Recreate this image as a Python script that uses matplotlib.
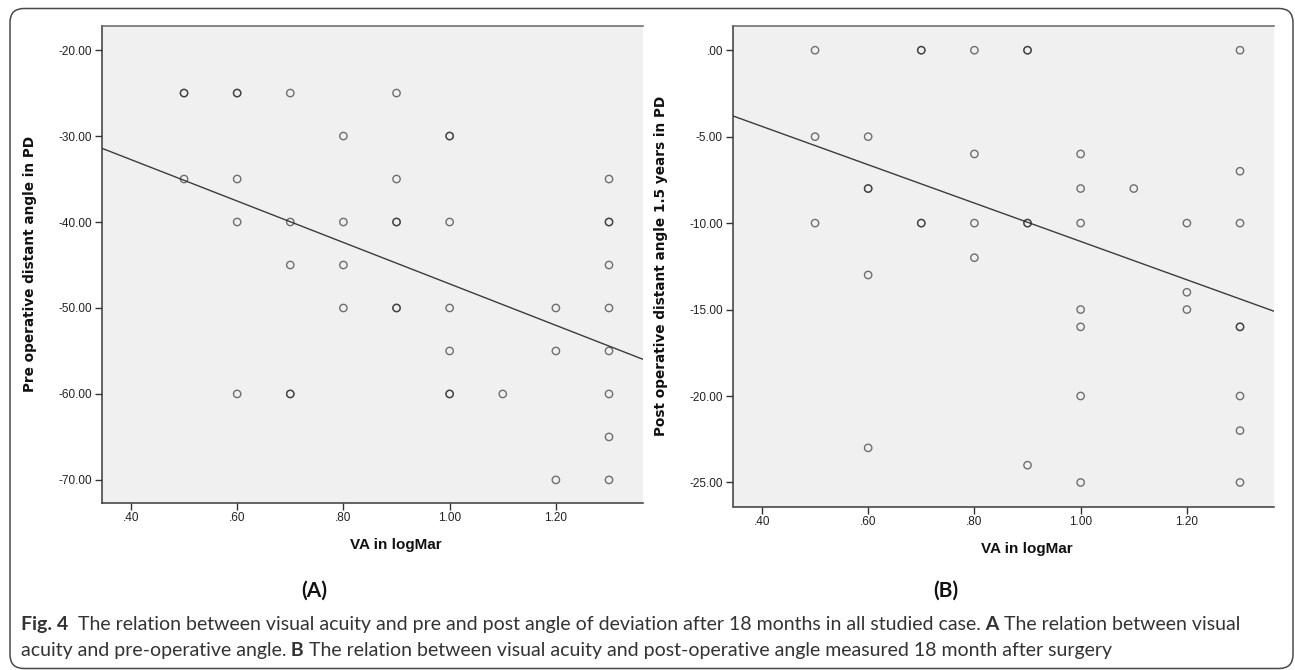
import matplotlib
matplotlib.use("Agg")
import matplotlib.pyplot as plt
from matplotlib.patches import FancyBboxPatch
from matplotlib.transforms import IdentityTransform
import numpy as np

# ---- data (duplicates = darker rings) ----
va_a = [0.5, 0.5, 0.5,
        0.6, 0.6, 0.6, 0.6, 0.6,
        0.7, 0.7, 0.7, 0.7, 0.7,
        0.8, 0.8, 0.8, 0.8,
        0.9, 0.9, 0.9, 0.9, 0.9, 0.9,
        1.0, 1.0, 1.0, 1.0, 1.0, 1.0, 1.0,
        1.1,
        1.2, 1.2, 1.2,
        1.3, 1.3, 1.3, 1.3, 1.3, 1.3, 1.3, 1.3, 1.3]
pre_angle = [-25, -25, -35,
             -25, -25, -35, -40, -60,
             -25, -40, -45, -60, -60,
             -30, -40, -45, -50,
             -25, -35, -40, -40, -50, -50,
             -30, -30, -40, -50, -55, -60, -60,
             -60,
             -50, -55, -70,
             -35, -40, -40, -45, -50, -55, -60, -65, -70]

va_b = [0.5, 0.5, 0.5,
        0.6, 0.6, 0.6, 0.6, 0.6,
        0.7, 0.7, 0.7, 0.7,
        0.8, 0.8, 0.8, 0.8,
        0.9, 0.9, 0.9, 0.9, 0.9,
        1.0, 1.0, 1.0, 1.0, 1.0, 1.0, 1.0,
        1.1,
        1.2, 1.2, 1.2,
        1.3, 1.3, 1.3, 1.3, 1.3, 1.3, 1.3, 1.3]
post_angle = [0, -5, -10,
              -5, -8, -8, -13, -23,
              0, 0, -10, -10,
              0, -6, -10, -12,
              0, 0, -10, -10, -24,
              -6, -8, -10, -15, -16, -20, -25,
              -8,
              -10, -14, -15,
              0, -7, -10, -16, -16, -20, -22, -25]

# fit lines (intercept, slope) as drawn in the source
fit_a = (-23.1, -24.1)
fit_b = (0.03, -11.09)

x_ticks = [0.4, 0.6, 0.8, 1.0, 1.2]
x_tick_labels = [".40", ".60", ".80", "1.00", "1.20"]
ya_ticks = [-20, -30, -40, -50, -60, -70]
ya_tick_labels = ["-20.00", "-30.00", "-40.00", "-50.00", "-60.00", "-70.00"]
yb_ticks = [0, -5, -10, -15, -20, -25]
yb_tick_labels = [".00", "-5.00", "-10.00", "-15.00", "-20.00", "-25.00"]

xlabel = "VA in logMar"
ylabel_a = "Pre operative distant angle in PD"
ylabel_b = "Post operative distant angle 1.5 years in PD"

caption_lines = [
    [("Fig. 4", "bold"), ("  The relation between visual acuity and pre and post angle of deviation after 18 months in all studied case.", "normal"),
     (" A", "bold"), (" The relation between visual", "normal")],
    [("acuity and pre-operative angle.", "normal"), (" B", "bold"),
     (" The relation between visual acuity and post-operative angle measured 18 month after surgery", "normal")],
]

W, H = 1295, 670
fig = plt.figure(figsize=(W / 100, H / 100), dpi=100)
fig.patch.set_facecolor("white")

box = FancyBboxPatch((10, 1.5), 1283, 660, boxstyle="round,pad=0,rounding_size=14",
                     transform=IdentityTransform(), fill=False, ec="#4a4a4a", lw=1.1)
fig.patches.append(box)


def px_axes(left, top, right, bottom):
    return fig.add_axes([left / W, 1 - bottom / H, (right - left) / W, (bottom - top) / H])


tick_font = dict(family=["Liberation Sans", "DejaVu Sans"], size=8.5, color="#222")


def style(ax, xs, ys, fit, yticks, ylabels, ylim, ylabel):
    ax.set_facecolor("#f0f0f0")
    ax.scatter(xs, ys, s=28, facecolors="none", edgecolors="#2a2a2a", linewidths=1.0,
               alpha=0.65, zorder=3)
    xlim = (0.345, 1.364)
    xx = np.array(xlim)
    ax.plot(xx, fit[0] + fit[1] * xx, color="#3c3c3c", lw=1.0, zorder=2)
    ax.set_xlim(*xlim)
    ax.set_ylim(*ylim)
    ax.set_xticks(x_ticks)
    ax.set_xticklabels(x_tick_labels, **tick_font)
    ax.set_yticks(yticks)
    ax.set_yticklabels(ylabels, **tick_font)
    ax.tick_params(axis="both", direction="out", length=5, width=1.0, color="#333", pad=2)
    for s in ("left", "bottom", "top"):
        ax.spines[s].set_color("#3a3a3a")
        ax.spines[s].set_linewidth(1.1)
    ax.spines["top"].set_color("#666")
    ax.spines["right"].set_visible(False)
    ax.set_ylabel(ylabel, family="DejaVu Sans", weight="bold", size=9.8, color="#111")
    ax.yaxis.set_label_coords(-0.1195, 0.5)
    ax.set_xlabel(xlabel, family="Liberation Sans", weight="bold", size=11, color="#111")
    ax.xaxis.set_label_coords(0.544, -0.074)


ax_a = px_axes(101.7, 26, 643, 502.7)
style(ax_a, va_a, pre_angle, fit_a, ya_ticks, ya_tick_labels, (-72.65, -17.2), ylabel_a)
ax_b = px_axes(732.7, 26, 1274, 506.5)
style(ax_b, va_b, post_angle, fit_b, yb_ticks, yb_tick_labels, (-26.39, 1.4), ylabel_b)

cap_font = ["Lato", "DejaVu Sans"]
fig.text(314 / W, 1 - 591 / H, "(A)", family=cap_font, weight="bold", size=15,
         ha="center", va="center", color="#111")
fig.text(946 / W, 1 - 591 / H, "(B)", family=cap_font, weight="bold", size=15,
         ha="center", va="center", color="#111")

# caption: lay out bold/normal runs one after another, fitted to the source width
renderer = fig.canvas.get_renderer()


def run_width(text, weight, size):
    t = fig.text(0, 0, "|" + text + "|", family=cap_font, weight=weight, size=size)
    w = t.get_window_extent(renderer).width
    t.remove()
    t = fig.text(0, 0, "||", family=cap_font, weight=weight, size=size)
    w -= t.get_window_extent(renderer).width
    t.remove()
    return w


base = 13
w1 = sum(run_width(t, wgt, base) for t, wgt in caption_lines[0])
cap_size = base * 1216 / w1

for line, baseline in zip(caption_lines, (630, 656)):
    x = 20.7
    for text, weight in line:
        fig.text(x / W, 1 - baseline / H, text, family=cap_font, weight=weight,
                 size=cap_size, va="baseline", ha="left", color="#333")
        x += run_width(text, weight, cap_size)

fig.savefig("out.png", dpi=100)
